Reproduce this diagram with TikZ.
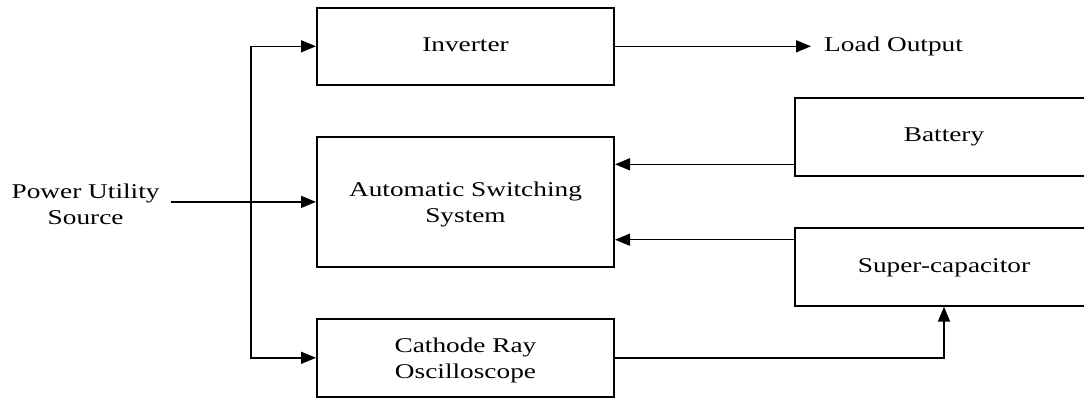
\documentclass[tikz,border=0pt]{standalone}
\usepackage{fontspec}
\setmainfont{Liberation Serif}[FakeStretch=1.3]
\usetikzlibrary{arrows.meta}
\begin{document}
\begin{tikzpicture}[x=1pt,y=-1pt,
  font=\fontsize{21}{26}\selectfont,
  box/.style={draw, line width=2pt, inner sep=0pt, align=center, minimum width=297pt},
  one/.style={text height=14pt, text depth=4pt},
  conn/.style={line width=1.5pt},
  arr/.style={conn, -{Triangle[length=15pt,width=12pt]}}]
\useasboundingbox (0,0) rectangle (1084,398);
\fill[white] (0,0) rectangle (1084,398);
\clip (0,0) rectangle (1084,398);
% boxes
\node[box, one, minimum height=77.5pt] (inv) at (465.5,46.3) {Inverter};
\node[box, minimum height=129.2pt] (ass) at (465.5,201.9) {\rule{0pt}{19pt}Automatic Switching\\System};
\node[box, minimum height=77.7pt] (cro) at (465.5,357.8) {\rule{0pt}{19pt}Cathode Ray\\Oscilloscope};
\node[box, one, minimum width=298pt, minimum height=77.4pt] (bat) at (944,137) {Battery};
\node[box, one, minimum width=298pt, minimum height=77.4pt] (sup) at (944,267) {Super-capacitor};
% free texts
\node[align=center, inner xsep=11pt, inner ysep=0pt] (pus) at (85.6,201.9) {\rule{0pt}{19pt}Power Utility\\Source};
\node[anchor=west, one, inner xsep=13pt, inner ysep=0pt] (load) at (811,46.3) {Load Output};
% connectors
\coordinate (bus) at (251,201.9);
\coordinate (b1) at ([yshift=12.4pt]bat.south west);
\coordinate (s1) at ([yshift=-12.4pt]sup.north west);
\draw[arr] (pus.east) -- (ass.west);
\draw[arr] (bus) |- (inv.west);
\draw[arr] (bus) |- (cro.west);
\draw[arr] (inv.east) -- (load.west);
\draw[arr] (b1) -- (b1 -| ass.east);
\draw[arr] (s1) -- (s1 -| ass.east);
\draw[arr] (cro.east) -| (sup.south);
\end{tikzpicture}
\end{document}
